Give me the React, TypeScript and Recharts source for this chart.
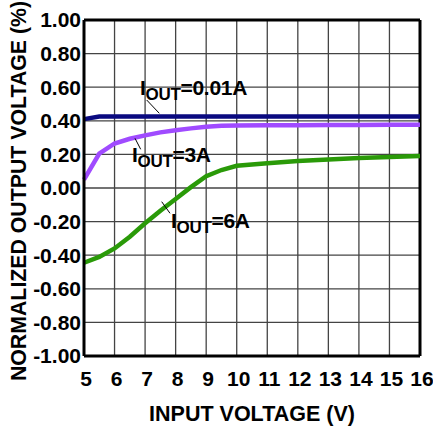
import React from 'react';
import {
  LineChart, Line, XAxis, YAxis, CartesianGrid, ReferenceLine
} from 'recharts';

const inputVoltage = [5, 5.5, 6, 6.5, 7, 7.5, 8, 8.5, 9, 9.5, 10, 11, 12, 13, 14, 15, 16];
const iout001 = [0.41, 0.425, 0.425, 0.425, 0.425, 0.425, 0.425, 0.425, 0.425, 0.425, 0.425, 0.425, 0.425, 0.425, 0.425, 0.425, 0.425];
const iout3 = [0.05, 0.205, 0.265, 0.293, 0.313, 0.331, 0.344, 0.355, 0.365, 0.37, 0.372, 0.373, 0.374, 0.375, 0.375, 0.376, 0.376];
const iout6 = [-0.445, -0.41, -0.36, -0.29, -0.21, -0.135, -0.065, 0.005, 0.07, 0.107, 0.132, 0.148, 0.16, 0.17, 0.178, 0.185, 0.19];

const xTicks = [5, 6, 7, 8, 9, 10, 11, 12, 13, 14, 15, 16];
const yTicks = [-1, -0.8, -0.6, -0.4, -0.2, 0, 0.2, 0.4, 0.6, 0.8, 1];

const data = inputVoltage.map((v, i) => ({ v, a: iout001[i], b: iout3[i], c: iout6[i] }));

const font = '"Liberation Sans", Arial, sans-serif';

const YLabel = (props: any) => {
  const vb = props.viewBox;
  const cy = vb.y + vb.height / 2 + 3;
  return (
    <text x={19} y={cy} transform={`rotate(-90, 19, ${cy})`} textAnchor="middle" dominantBaseline="central"
      fontFamily={font} fontWeight="bold" fontSize={21.3} fill="#000">
      NORMALIZED OUTPUT VOLTAGE (%)
    </text>
  );
};

const Annot = ({ x, y, rest }: { x: number; y: number; rest: string }) => (
  <text x={x} y={y} fontFamily={font} fontWeight="bold" fontSize={21} fill="#000" letterSpacing={-0.3}>
    I<tspan fontSize={17} dy={5}>OUT</tspan><tspan dy={-5}>{rest}</tspan>
  </text>
);

export default function App() {
  return (
    <div style={{ position: 'absolute', left: 0, top: 0, width: 433, height: 429, background: '#fff' }}>
      <LineChart width={433} height={429} data={data} margin={{ top: 20, right: 13, left: 0, bottom: 43 }}>
        <CartesianGrid stroke="#444" strokeWidth={1.3} />
        <XAxis dataKey="v" type="number" domain={[5, 16]} ticks={xTicks} interval={0}
          tickSize={0} tickMargin={15} height={30}
          axisLine={{ stroke: '#000', strokeWidth: 3 }} tickLine={false}
          tick={{ fill: '#000', fontSize: 21, fontWeight: 'bold', fontFamily: font, dx: 2 }}
          label={{ value: 'INPUT VOLTAGE (V)', position: 'bottom', offset: 20, fill: '#000', fontSize: 21.5, fontWeight: 'bold', fontFamily: font }} />
        <YAxis type="number" domain={[-1, 1]} ticks={yTicks} interval={0} width={84}
          tickSize={0} tickMargin={3}
          tickFormatter={(t: number) => t.toFixed(2)}
          axisLine={{ stroke: '#000', strokeWidth: 3 }} tickLine={false}
          tick={{ fill: '#000', fontSize: 21, fontWeight: 'bold', fontFamily: font }}
          label={<YLabel />} />
        <ReferenceLine y={1} stroke="#000" strokeWidth={3} />
        <ReferenceLine x={16} stroke="#000" strokeWidth={3} />
        <Line type="linear" dataKey="a" stroke="#0a0a80" strokeWidth={4.5} dot={false} isAnimationActive={false} />
        <Line type="linear" dataKey="b" stroke="#a04bff" strokeWidth={4.5} dot={false} isAnimationActive={false} />
        <Line type="linear" dataKey="c" stroke="#2a9a08" strokeWidth={4.5} dot={false} isAnimationActive={false} />
      </LineChart>
      <svg width={433} height={429} style={{ position: 'absolute', left: 0, top: 0, pointerEvents: 'none' }}>
        <Annot x={140} y={95} rest="=0.01A" />
        <line x1={146.7} y1={100} x2={159.3} y2={113.3} stroke="#000" strokeWidth={1} />
        <Annot x={132} y={161.5} rest="=3A" />
        <line x1={135} y1={138.3} x2={140.7} y2={149.3} stroke="#000" strokeWidth={1} />
        <Annot x={171} y={228.3} rest="=6A" />
        <line x1={161.7} y1={201.7} x2={170} y2={213.3} stroke="#000" strokeWidth={1} />
      </svg>
    </div>
  );
}
